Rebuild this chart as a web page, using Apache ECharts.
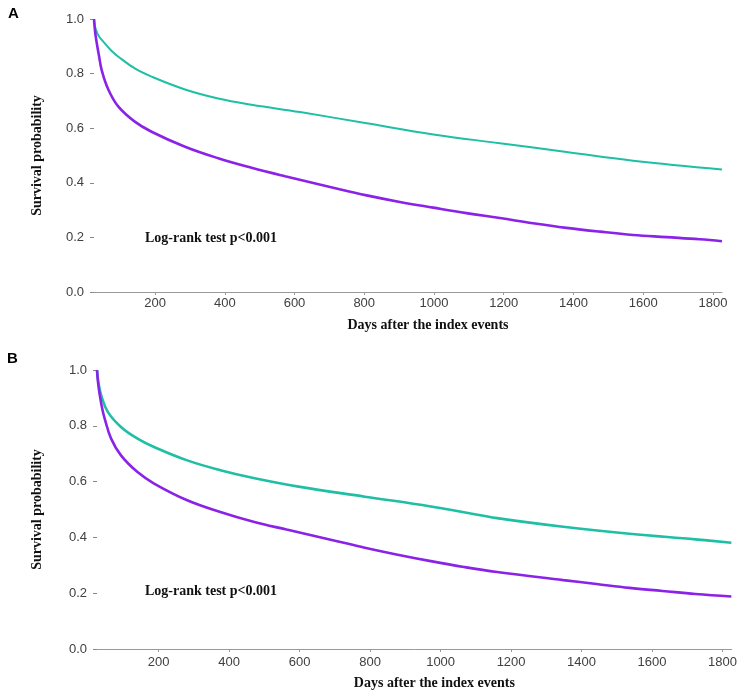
<!DOCTYPE html>
<html>
<head>
<meta charset="utf-8">
<script src="https://cdn.jsdelivr.net/npm/echarts@6/dist/echarts.min.js"></script>
<style>
html,body{margin:0;padding:0;background:#fff;}
#chart{width:740px;height:693px;}
</style>
</head>
<body>
<div id="chart"></div>
<script>
// ---- data (day, survival probability) ----
const xTicks = [200, 400, 600, 800, 1000, 1200, 1400, 1600, 1800];
const yTicks = [0, 0.2, 0.4, 0.6, 0.8, 1.0];

const panelA_teal = [
  [25,1.0],[30,0.962],[40,0.935],[56,0.911],[75,0.884],[95,0.862],[142,0.819],[190,0.789],
  [286,0.742],[381,0.709],[477,0.686],[616,0.659],[807,0.618],[998,0.577],[1189,0.545],
  [1380,0.513],[1571,0.481],[1826,0.449]
];
const panelA_purple = [
  [25,1.0],[28,0.955],[33,0.911],[40,0.86],[47,0.813],[66,0.742],[95,0.679],[142,0.624],
  [190,0.587],[286,0.532],[381,0.490],[477,0.455],[573,0.424],[711,0.382],[807,0.354],
  [902,0.330],[998,0.309],[1093,0.289],[1189,0.271],[1284,0.252],[1380,0.235],[1476,0.221],
  [1571,0.209],[1667,0.201],[1762,0.193],[1826,0.186]
];
const panelB_teal = [
  [25,1.0],[29,0.955],[37,0.909],[56,0.849],[93,0.796],[140,0.754],[187,0.724],[281,0.676],
  [375,0.641],[469,0.613],[597,0.582],[785,0.546],[972,0.511],[1066,0.490],[1160,0.469],
  [1348,0.438],[1536,0.413],[1723,0.393],[1825,0.381]
];
const panelB_purple = [
  [25,1.0],[28,0.955],[33,0.909],[40,0.86],[47,0.825],[65,0.754],[93,0.694],[140,0.634],
  [187,0.593],[281,0.533],[375,0.491],[469,0.456],[563,0.428],[691,0.391],[785,0.363],
  [878,0.338],[972,0.315],[1066,0.294],[1160,0.276],[1348,0.247],[1442,0.233],[1536,0.219],
  [1630,0.208],[1723,0.197],[1825,0.188]
];

const labels = { A: 'A', B: 'B' };
const yName = 'Survival probability';
const xName = 'Days after the index events';
const testText = 'Log-rank test p<0.001';

const TEAL = '#1fbfa5';
const PURPLE = '#8a22e8';
const serif = '"Liberation Serif", "DejaVu Serif", serif';
const sans = '"Liberation Sans", Arial, sans-serif';

const chart = echarts.init(document.getElementById('chart'), null, {renderer:'canvas'});

function xAxisCfg(gridIndex, gap, margin) {
  return {
    type:'value', gridIndex, min:25, max:1826,
    name:xName, nameLocation:'middle', nameGap:gap,
    nameTextStyle:{fontFamily:serif, fontWeight:'bold', fontSize:14, color:'#111', padding:[0,0,0,40]},
    axisLine:{show:true, lineStyle:{color:'#9a9a9a', width:1}},
    axisTick:{show:true, length:3, lineStyle:{color:'#9a9a9a'}, customValues:xTicks},
    axisLabel:{fontFamily:sans, fontSize:13, color:'#404040', margin:margin, customValues:xTicks,
      formatter:v=>String(Math.round(v))},
    splitLine:{show:false}
  };
}
function yAxisCfg(gridIndex, gap) {
  return {
    type:'value', gridIndex, min:0, max:1, interval:0.2,
    name:yName, nameLocation:'middle', nameGap:gap,
    nameTextStyle:{fontFamily:serif, fontWeight:'bold', fontSize:14, color:'#111'},
    axisLine:{show:false},
    axisTick:{show:true, length:4, lineStyle:{color:'#888'}},
    axisLabel:{fontFamily:sans, fontSize:13, color:'#404040', margin:10,
      formatter:v=>v.toFixed(1)},
    splitLine:{show:false}
  };
}
function line(data, color, width, idx) {
  return {
    type:'line', data, xAxisIndex:idx, yAxisIndex:idx, smooth:0.4,
    showSymbol:false, symbol:'none', lineStyle:{color, width}, itemStyle:{color},
    animation:false, z:3
  };
}

chart.setOption({
  backgroundColor:'#fff',
  animation:false,
  grid:[
    {left:94, right:18, top:19, height:273, containLabel:false},
    {left:97, right:4, top:370, height:279, containLabel:false}
  ],
  xAxis:[xAxisCfg(0,26,5), xAxisCfg(1,27,7)],
  yAxis:[yAxisCfg(0,50), yAxisCfg(1,53)],
  series:[
    line(panelA_teal, TEAL, 2, 0),
    line(panelA_purple, PURPLE, 2.6, 0),
    line(panelB_teal, TEAL, 2.6, 1),
    line(panelB_purple, PURPLE, 2.6, 1)
  ],
  graphic:[
    {type:'text', left:8, top:6, style:{text:labels.A, font:'bold 15px '+sans, fill:'#000'}},
    {type:'text', left:7, top:351, style:{text:labels.B, font:'bold 15px '+sans, fill:'#000'}},
    {type:'text', x:145, y:238, style:{text:testText, font:'bold 14px '+serif, fill:'#111', verticalAlign:'middle'}},
    {type:'text', x:145, y:591, style:{text:testText, font:'bold 14px '+serif, fill:'#111', verticalAlign:'middle'}}
  ]
});
</script>
</body>
</html>
